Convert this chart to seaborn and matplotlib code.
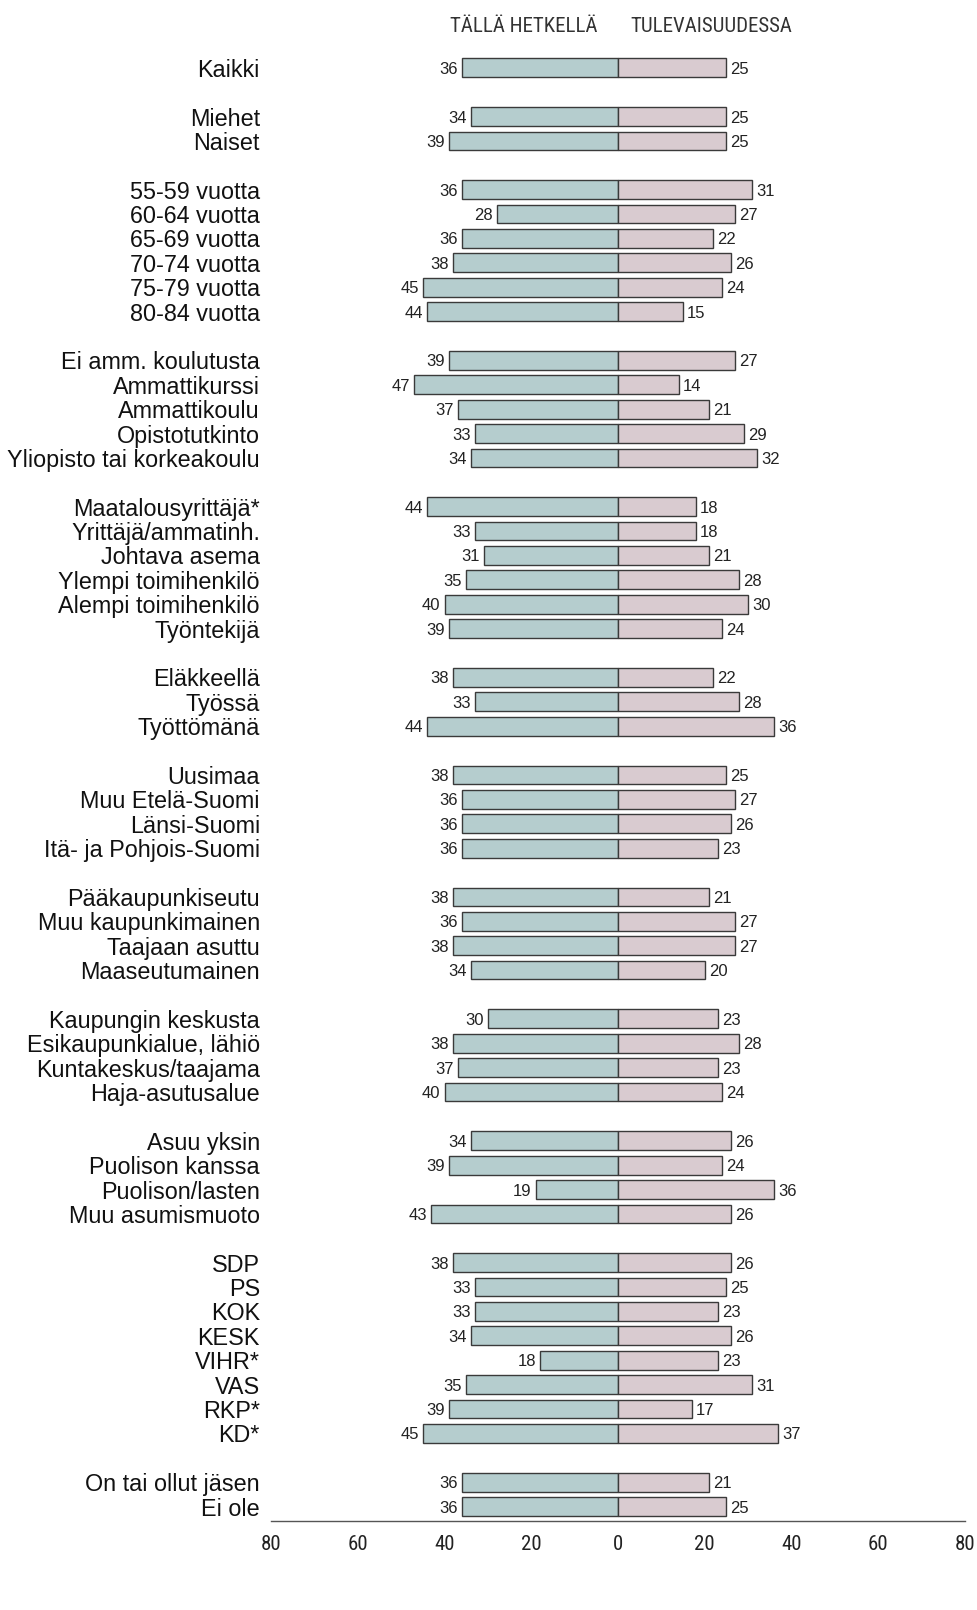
import matplotlib
matplotlib.use("Agg")
import matplotlib.pyplot as plt
import seaborn as sns
import pandas as pd

groups = [
    ["Kaikki"],
    ["Miehet", "Naiset"],
    ["55-59 vuotta", "60-64 vuotta", "65-69 vuotta", "70-74 vuotta", "75-79 vuotta", "80-84 vuotta"],
    ["Ei amm. koulutusta", "Ammattikurssi", "Ammattikoulu", "Opistotutkinto", "Yliopisto tai korkeakoulu"],
    ["Maatalousyrittäjä*", "Yrittäjä/ammatinh.", "Johtava asema", "Ylempi toimihenkilö", "Alempi toimihenkilö", "Työntekijä"],
    ["Eläkkeellä", "Työssä", "Työttömänä"],
    ["Uusimaa", "Muu Etelä-Suomi", "Länsi-Suomi", "Itä- ja Pohjois-Suomi"],
    ["Pääkaupunkiseutu", "Muu kaupunkimainen", "Taajaan asuttu", "Maaseutumainen"],
    ["Kaupungin keskusta", "Esikaupunkialue, lähiö", "Kuntakeskus/taajama", "Haja-asutusalue"],
    ["Asuu yksin", "Puolison kanssa", "Puolison/lasten", "Muu asumismuoto"],
    ["SDP", "PS", "KOK", "KESK", "VIHR*", "VAS", "RKP*", "KD*"],
    ["On tai ollut jäsen", "Ei ole"],
]

now_values = [
    [36],
    [34, 39],
    [36, 28, 36, 38, 45, 44],
    [39, 47, 37, 33, 34],
    [44, 33, 31, 35, 40, 39],
    [38, 33, 44],
    [38, 36, 36, 36],
    [38, 36, 38, 34],
    [30, 38, 37, 40],
    [34, 39, 19, 43],
    [38, 33, 33, 34, 18, 35, 39, 45],
    [36, 36],
]

future_values = [
    [25],
    [25, 25],
    [31, 27, 22, 26, 24, 15],
    [27, 14, 21, 29, 32],
    [18, 18, 21, 28, 30, 24],
    [22, 28, 36],
    [25, 27, 26, 23],
    [21, 27, 27, 20],
    [23, 28, 23, 24],
    [26, 24, 36, 26],
    [26, 25, 23, 26, 23, 31, 17, 37],
    [21, 25],
]

header_now = "TÄLLÄ HETKELLÄ"
header_future = "TULEVAISUUDESSA"
xticks = [-80, -60, -40, -20, 0, 20, 40, 60, 80]

# build order with blank spacer rows
order, display, cats, nows, futs = [], [], [], [], []
for gi, (g, nv, fv) in enumerate(zip(groups, now_values, future_values)):
    if gi > 0:
        key = " " * gi
        order.append(key)
        display.append("")
    for c, n, f in zip(g, nv, fv):
        order.append(c)
        display.append(c)
        cats.append(c)
        nows.append(n)
        futs.append(f)

df = pd.DataFrame({"cat": cats, "now": [-v for v in nows], "future": futs})

sns.set_style("white")
narrow = ["Roboto Condensed", "Archivo Narrow", "DejaVu Sans"]
regular = ["Liberation Sans", "DejaVu Sans"]
plt.rcParams["font.family"] = regular

fig = plt.figure(figsize=(9.77, 16.10), dpi=100)
ax = fig.add_axes([0.2774, 0.0553, 0.7103, 0.9117])

c_left = "#b5cdce"
c_right = "#d9cbd0"
edge = "#3a3a3a"

sns.barplot(data=df, x="now", y="cat", order=order, orient="h", color=c_left,
            edgecolor=edge, linewidth=1.0, width=0.77, saturation=1, ax=ax, errorbar=None)
sns.barplot(data=df, x="future", y="cat", order=order, orient="h", color=c_right,
            edgecolor=edge, linewidth=1.0, width=0.77, saturation=1, ax=ax, errorbar=None)

for cont in ax.containers:
    vals = [abs(round(b.get_width())) for b in cont]
    labs = [str(v) if v != 0 else "" for v in vals]
    anns = ax.bar_label(cont, labels=labs, padding=3, fontsize=12, color="#222222",
                        family=regular)
    for a in anns:
        a.set_va("center_baseline")

ax.set_xlim(-80, 80)
ax.set_ylim(59.59, -0.6)
ax.set_xticks(xticks)
ax.set_xticklabels([str(abs(t)) for t in xticks], family=narrow, fontsize=15, color="#222222")
ax.set_yticks(range(len(order)))
ax.set_yticklabels(display, fontsize=16.8, color="#111111")
ax.tick_params(axis="y", length=0, pad=8)
ax.tick_params(axis="x", direction="out", length=7, width=1, color="#555555", pad=3)
ax.set_xlabel("")
ax.set_ylabel("")
for s in ["top", "left", "right"]:
    ax.spines[s].set_visible(False)
ax.spines["bottom"].set_color("#555555")
ax.spines["bottom"].set_linewidth(1)

ax.text(-21.7, -1.68, header_now, ha="center", va="center", family=narrow,
        fontsize=15, color="#333333", clip_on=False)
ax.text(21.4, -1.68, header_future, ha="center", va="center", family=narrow,
        fontsize=15, color="#333333", clip_on=False)

fig.savefig("out.png", dpi=100)
